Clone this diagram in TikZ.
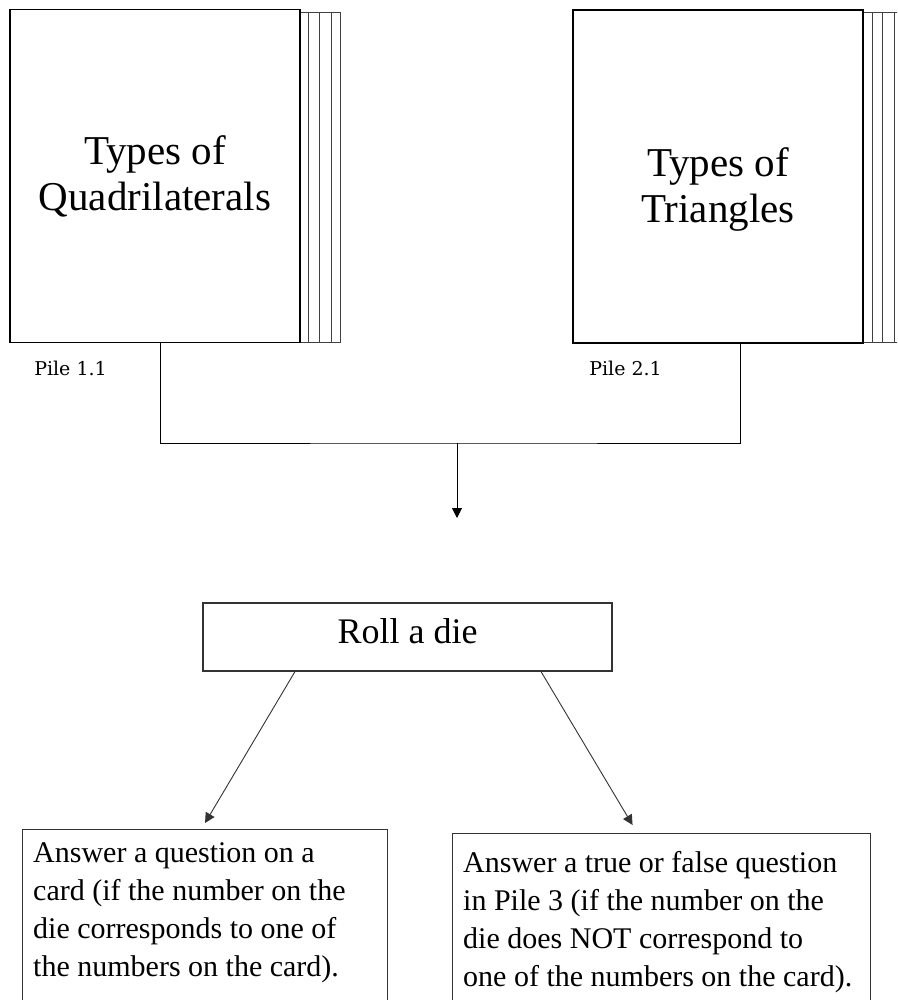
\documentclass[tikz,border=0pt]{standalone}
\usepackage{fontspec}
\setmainfont{Liberation Serif}
\newfontfamily\pilefont{DejaVu Serif}
\usetikzlibrary{positioning, arrows.meta}

\tikzset{
  card/.style={draw, line width=1.8pt, minimum width=290pt, minimum height=333pt, inner sep=0pt},
  cardtext/.style={align=center, font=\fontsize{41}{46}\selectfont, inner sep=0pt},
  stackline/.style={line width=0.9pt, black!75},
  pile/.style={font=\pilefont\fontsize{19}{22}\selectfont, anchor=base west, inner sep=0pt},
  link/.style={line width=0.9pt},
  tip/.style={-{Triangle[length=10pt,width=10pt]}},
  rollbox/.style={draw=black!80, line width=1.1pt, minimum width=409pt, minimum height=68pt,
    font=\fontsize{36}{40}\selectfont, text height=20pt, text depth=8pt},
  answerbox/.style={draw=black!80, line width=1.1pt, anchor=north west, inner sep=0pt},
  answertext/.style={align=left, anchor=north west, inner sep=0pt, font=\fontsize{30}{38}\selectfont}
}

\begin{document}
\begin{tikzpicture}[x=1pt, y=-1pt]
\clip (0,0) rectangle (897,1000);
\fill[white] (0,0) rectangle (897,1000);

% the two piles of cards
\node[card] (quad) at (155,176) {};
\node[card] (tri) at (718,176.5) {};
\node[cardtext] (quadtxt) at (quad.center) {Types of\\Quadrilaterals};
\node[cardtext] (tritxt) at ([yshift=-13pt]tri.center) {Types of\\Triangles};

% edges of the cards underneath
\draw[stackline] ([yshift=-3.5pt]quad.north east) -- ++(40,0);
\draw[stackline] ([yshift=1pt]quad.south east) -- ++(40,0);
\foreach \dx in {7.5,19,30.5,40}
  \draw[stackline] ([xshift=\dx pt,yshift=-3.5pt]quad.north east) -- ([xshift=\dx pt,yshift=1pt]quad.south east);
\draw[stackline] ([yshift=-3.5pt]tri.north east) -- ++(40,0);
\draw[stackline] ([yshift=1pt]tri.south east) -- ++(40,0);
\foreach \dx in {9,19,31,43}
  \draw[stackline] ([xshift=\dx pt,yshift=-3.5pt]tri.north east) -- ([xshift=\dx pt,yshift=1pt]tri.south east);

\node[pile] (pile1) at ([xshift=25pt,yshift=-32pt]quad.south west) {Pile 1.1};
\node[pile] (pile2) at ([xshift=17pt,yshift=-32pt]tri.south west) {Pile 2.1};

% joining the piles
\coordinate (join) at (457,443);
\coordinate (drop) at (457,518);
\draw[link] ([xshift=5pt]quad.south) |- (join) -| ([xshift=22pt]tri.south);
\draw[link, tip] (join) -- (drop);

% the die and the two outcomes
\node[rollbox] (roll) at (407.5,637) {Roll a die};
\node[answerbox, minimum width=365pt, minimum height=190pt] (leftbox) at (22,829) {};
\node[answerbox, minimum width=418pt, minimum height=190pt] (rightbox) at (452,833) {};
\node[answertext] (lefttxt) at ([xshift=11pt,yshift=-13pt]leftbox.north west)
  {Answer a question on a\\card (if the number on the\\die corresponds to one of\\the numbers on the card).};
\node[answertext] (righttxt) at ([xshift=11pt,yshift=-18pt]rightbox.north west)
  {Answer a true or false question\\in Pile 3 (if the number on the\\die does NOT correspond to\\one of the numbers on the card).};

\draw[link, tip, black!80] ([xshift=-112.5pt]roll.south) -- ([yshift=6pt]leftbox.north);
\draw[link, tip, black!80] ([xshift=133.5pt]roll.south) -- ([xshift=-29pt,yshift=8pt]rightbox.north);
\end{tikzpicture}
\end{document}
